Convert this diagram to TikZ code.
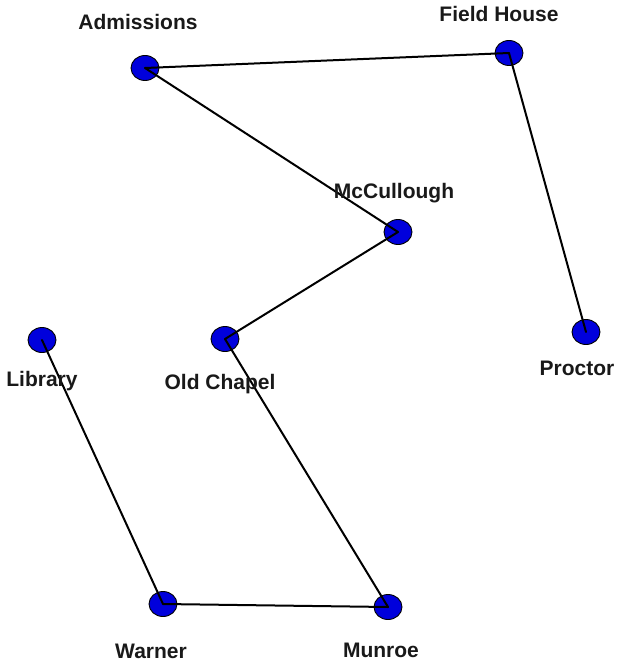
\documentclass[tikz,border=0pt]{standalone}
\usepackage{fontspec}
\setmainfont{Liberation Sans}
\usetikzlibrary{shapes.geometric}
\begin{document}
\begin{tikzpicture}[x=1pt,y=-1pt,
  vtx/.style={ellipse,draw=black,line width=0.9pt,fill=vblue,minimum width=28pt,minimum height=25pt,inner sep=0pt},
  lbl/.style={font=\fontsize{21}{22}\selectfont\bfseries,text=black!90,inner sep=0pt},
  edge/.style={draw=black,line width=2pt,line cap=round}]
\definecolor{vblue}{RGB}{0,0,220}
\useasboundingbox (0,0) rectangle (619,663);
\node[vtx] (adm) at (145,68) {};
\node[vtx] (fh) at (509,53) {};
\node[vtx] (mcc) at (398,232) {};
\node[vtx] (pro) at (586,332) {};
\node[vtx] (lib) at (42,340) {};
\node[vtx] (oc) at (225,339) {};
\node[vtx] (war) at (163,604) {};
\node[vtx] (mun) at (388,607) {};
\draw[edge] (adm.center) -- (fh.center);
\draw[edge] (adm.center) -- (mcc.center);
\draw[edge] (fh.center) -- (pro.center);
\draw[edge] (mcc.center) -- (oc.center);
\draw[edge] (oc.center) -- (mun.center);
\draw[edge] (lib.center) -- (war.center);
\draw[edge] (war.center) -- (mun.center);
\node[lbl] (tadm) at (138,22) {Admissions};
\node[lbl] (tfh) at (499,14) {Field House};
\node[lbl] (tmcc) at (394,193) {McCullough};
\node[lbl] (tpro) at (577,368) {Proctor};
\node[lbl] (tlib) at (42,381) {Library};
\node[lbl] (toc) at (220,384) {Old Chapel};
\node[lbl] (twar) at (151,651) {Warner};
\node[lbl] (tmun) at (381,650) {Munroe};
\end{tikzpicture}
\end{document}
